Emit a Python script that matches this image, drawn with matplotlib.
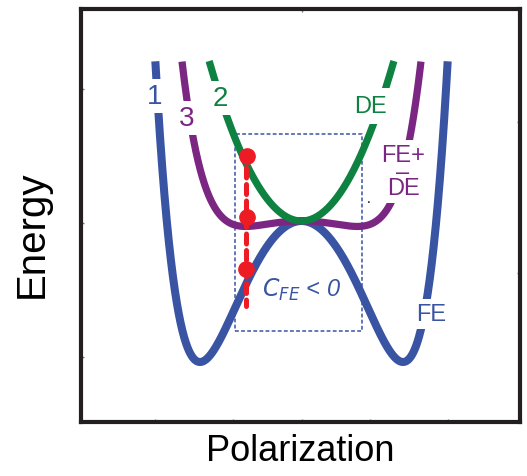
import numpy as np
import matplotlib
matplotlib.use("Agg")
import matplotlib.pyplot as plt

plt.rcParams['font.family'] = ['Liberation Sans', 'DejaVu Sans']

# Landau-type energy coefficients (E = -a P^2 + b P^4 + c P^6)
fe_coef = [-1.59, 0.18, 0.41]     # ferroelectric
de_coef = [1.37, 0.0, 0.0]        # dielectric
e_top = 1.135                      # curves are cut at this energy

# red operating points (polarization, energy)
dot_p = [-0.537, -0.537, -0.547]
dot_e = [0.461, 0.028, -0.340]
red_line_e = [0.496, -0.603]

# dashed region of negative capacitance
box_p = [-0.655, 0.596]
box_e = [-0.780, 0.617]

blue = '#3a54a4'
purple = '#7b2682'
green = '#0e8241'
red = '#ed1c24'


def energy(p, coef):
    return coef[0] * p**2 + coef[1] * p**4 + coef[2] * p**6


fig = plt.figure(figsize=(5.27, 4.77), dpi=100)
ax = fig.add_axes([81/527, 1-423/477, (520-81)/527, (423-10)/477])

p = np.linspace(-2, 2, 4001)
sum_coef = [fe_coef[i] + de_coef[i] for i in range(3)]
for coef, col, lw in [(fe_coef, blue, 5.8), (sum_coef, purple, 5.2), (de_coef, green, 5.2)]:
    e = energy(p, coef)
    e = np.where(e <= e_top, e, np.nan)
    ax.plot(p, e, color=col, lw=lw, zorder=3, solid_capstyle='butt')

# dashed box
ax.plot([box_p[0], box_p[1], box_p[1], box_p[0], box_p[0]],
        [box_e[0], box_e[0], box_e[1], box_e[1], box_e[0]],
        color=blue, lw=1.1, ls=(0, (2.5, 1.5)), zorder=2)

# red dashed line and dots
ax.plot([dot_p[2], dot_p[2]], red_line_e, color=red, lw=3.6,
        ls=(0, (2, 1.3)), dash_capstyle='round', zorder=5)
ax.plot(dot_p, dot_e, 'o', color=red, ms=11, zorder=6)

bb = dict(facecolor='white', edgecolor='none', pad=3)
ax.text(-1.45, 0.885, '1', color=blue, fontsize=20, ha='center', va='center', bbox=bb, zorder=4)
ax.text(-1.13, 0.73, '3', color=purple, fontsize=20, ha='center', va='center', bbox=bb, zorder=4)
ax.text(-0.80, 0.87, '2', color=green, fontsize=20, ha='center', va='center', bbox=bb, zorder=4)
ax.text(0.68, 0.815, 'DE', color=green, fontsize=17, ha='center', va='center',
        bbox=dict(facecolor='white', edgecolor='none', pad=5), zorder=4)
ax.text(1.0, 0.35, 'FE+\n\u2013\nDE', color=purple, fontsize=17, ha='center', va='center',
        multialignment='center', linespacing=0.68, bbox=bb, zorder=4)
ax.text(1.28, -0.66, 'FE', color=blue, fontsize=17, ha='center', va='center', bbox=bb, zorder=4)
ax.text(0.0, -0.48, r'$C_{FE}$ < 0', color=blue, fontsize=17, style='italic',
        ha='center', va='center', zorder=4)
ax.text(0.66, 0.16, '.', color='black', fontsize=10, ha='center', va='center')

ax.set_xlim((81-301.5)/101.5, (520-301.5)/101.5)
ax.set_ylim((222-423)/141, (222-10)/141)

for s in ax.spines.values():
    s.set_linewidth(3.0)
    s.set_color('#231f20')
ax.set_xticks([-1.443, -0.675, 0.005, 0.675, 1.443])
ax.set_yticks([0.936, -0.014, -0.965])
ax.tick_params(length=2, width=1, direction='in', labelbottom=False, labelleft=False, color='#777777')

sy = ax.secondary_yaxis('right')
sy.set_yticks([0.702, -0.369])
sy.tick_params(length=2, width=1, direction='in', labelright=False, color='#777777')
sy.spines['right'].set_visible(False)
sx = ax.secondary_xaxis('top')
sx.set_xticks([0.005])
sx.tick_params(length=2, width=1, direction='in', labeltop=False, color='#777777')
sx.spines['top'].set_visible(False)

ax.set_xlabel('Polarization', fontsize=26, labelpad=8)
ax.set_ylabel('Energy', fontsize=29)
ax.yaxis.set_label_coords(-0.07, 0.458)

fig.savefig('out.png', dpi=100)
